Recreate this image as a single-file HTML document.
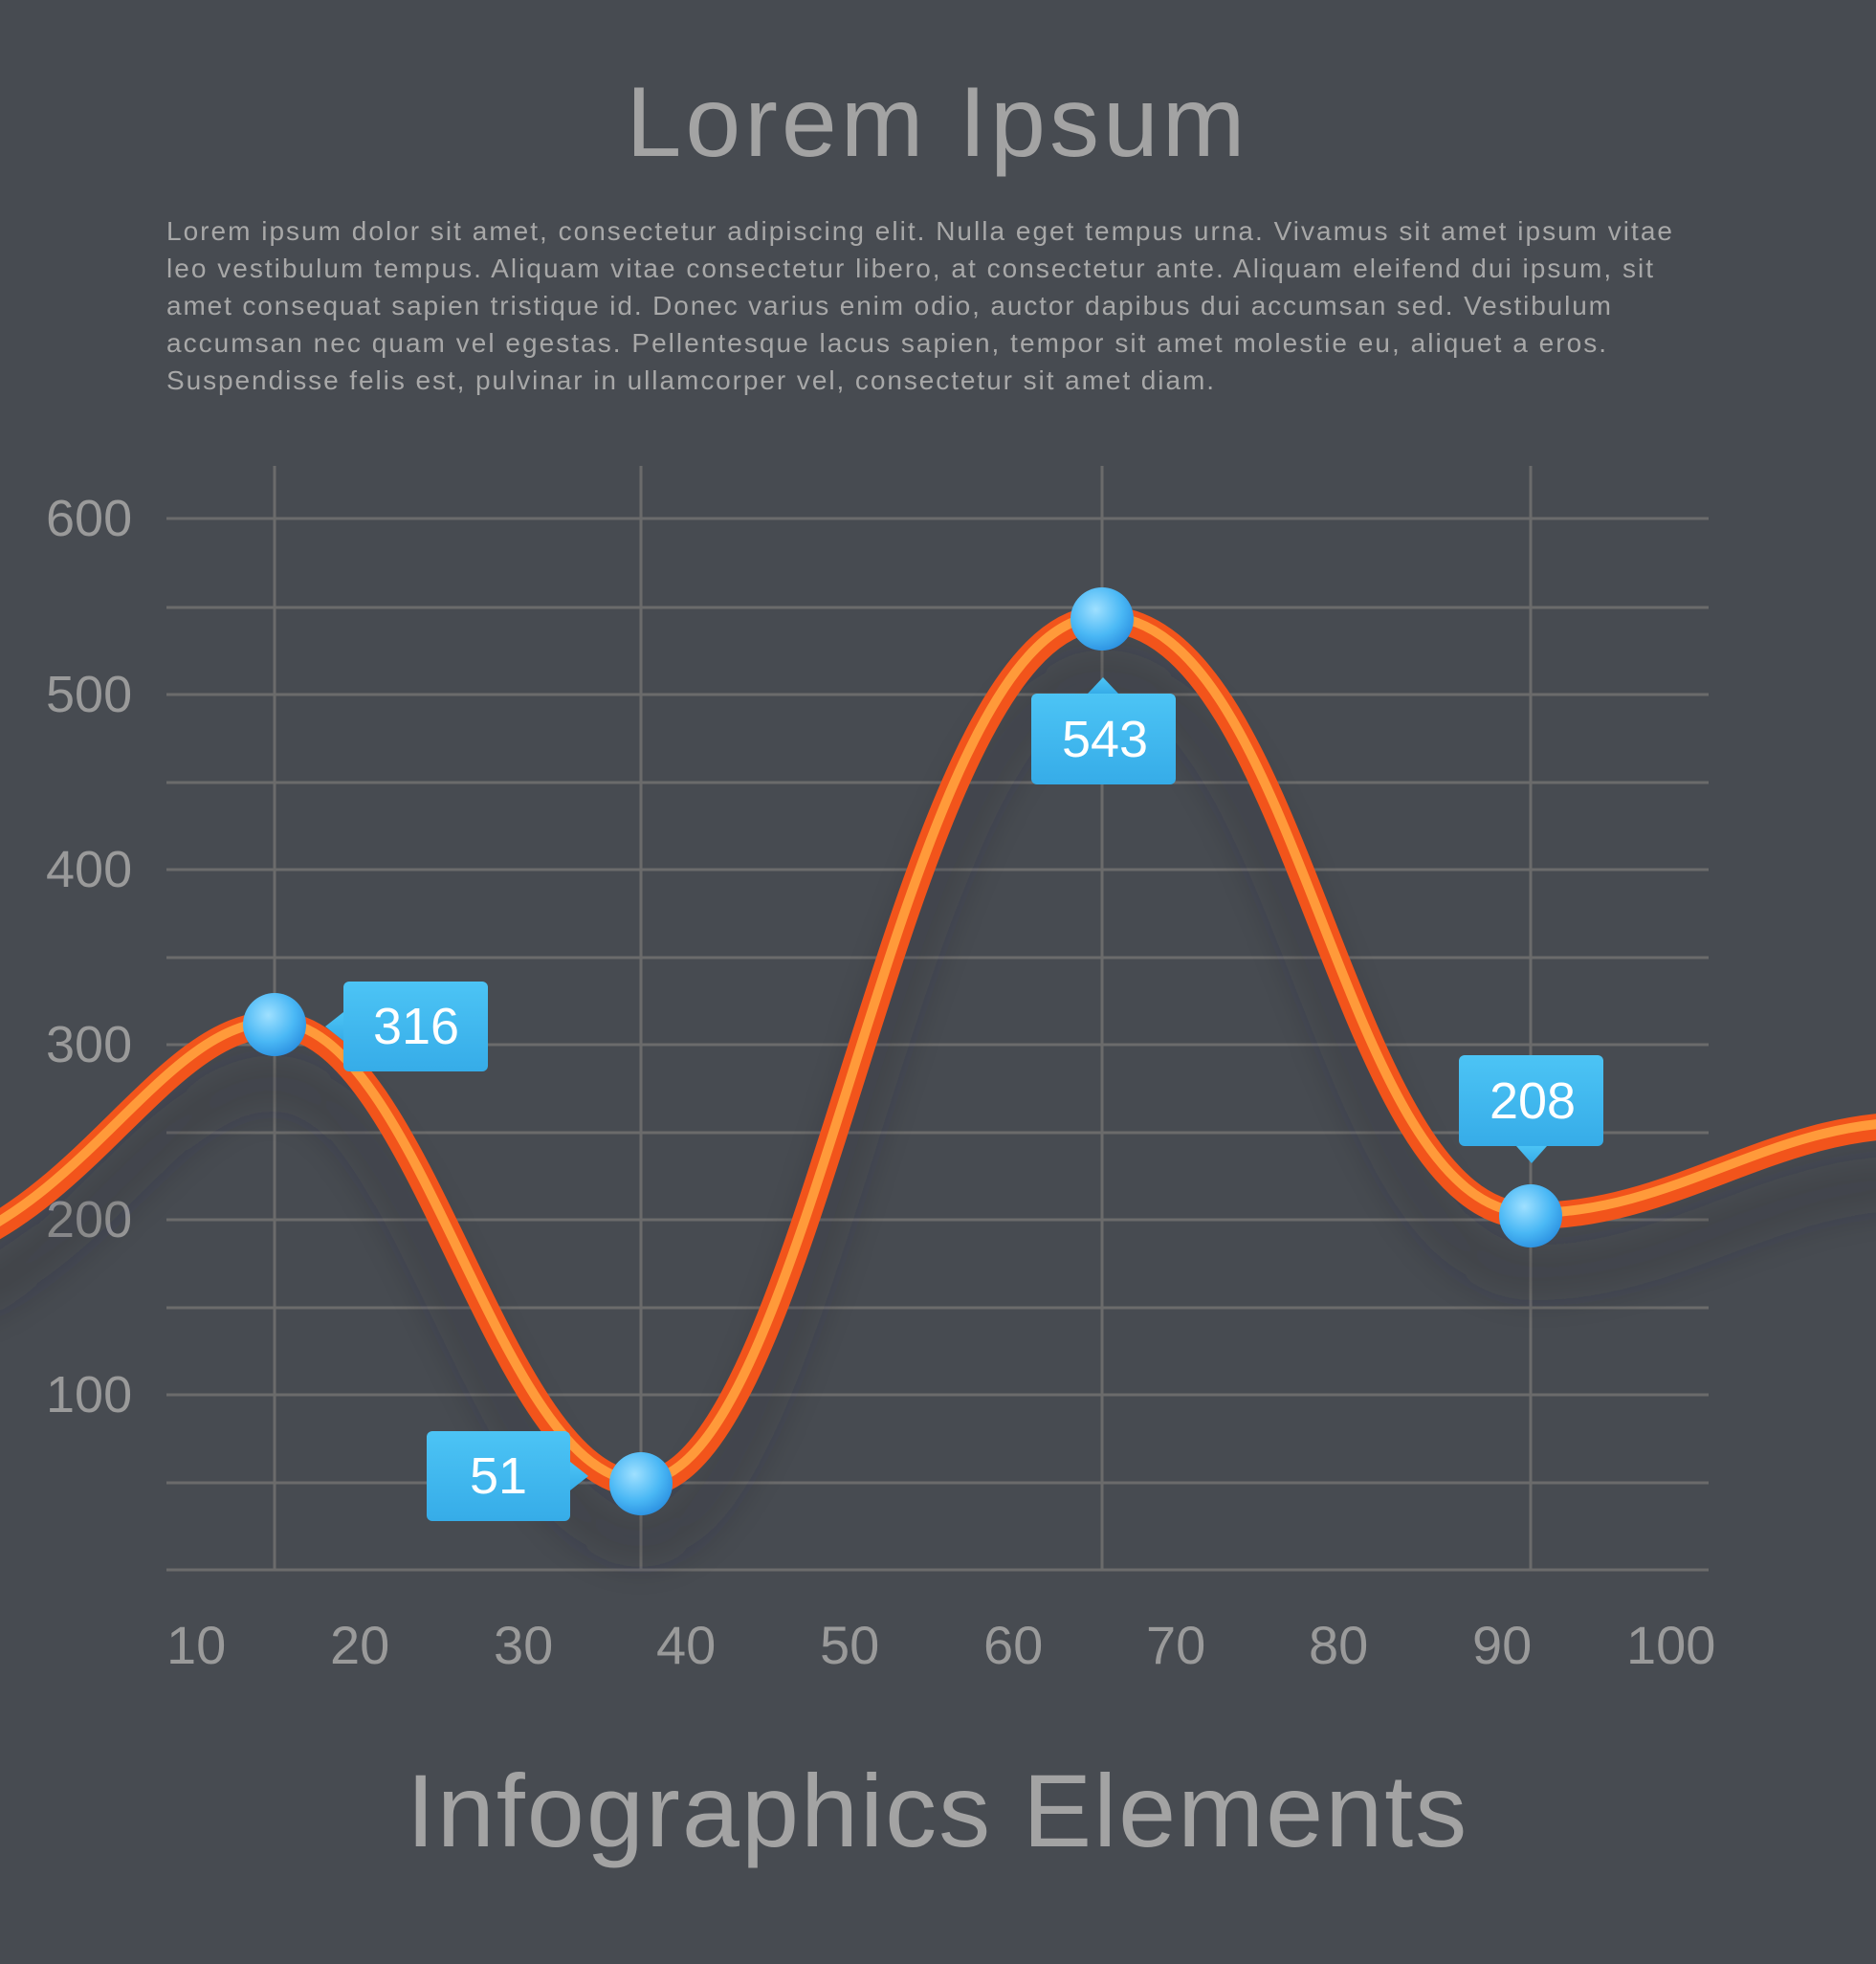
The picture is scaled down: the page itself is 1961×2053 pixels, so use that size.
<!DOCTYPE html>
<html><head><meta charset="utf-8"><style>
html,body{margin:0;padding:0;background:#474b51;}
body{width:1961px;height:2048px;overflow:hidden;}
</style></head><body>
<svg width="1961" height="2048" viewBox="0 0 1961 2048" xmlns="http://www.w3.org/2000/svg" font-family="Liberation Sans, sans-serif">
<defs>
<radialGradient id="ball" cx="0.4" cy="0.35" r="0.7">
<stop offset="0" stop-color="#9fe0ff"/><stop offset="0.6" stop-color="#4ab8f5"/><stop offset="1" stop-color="#2a8fe0"/>
</radialGradient>
<linearGradient id="box" x1="0" y1="0" x2="0" y2="1">
<stop offset="0" stop-color="#4cc4f5"/><stop offset="1" stop-color="#36ace8"/>
</linearGradient>
<filter id="sh" x="-20%" y="-20%" width="140%" height="140%"><feGaussianBlur stdDeviation="22"/></filter>
</defs>
<rect width="1961" height="2048" fill="#474b51"/>
<text x="980" y="163" text-anchor="middle" font-size="104" fill="#a3a3a3" letter-spacing="4">Lorem Ipsum</text>
<g font-size="28" fill="#a8a8a8" lengthAdjust="spacing">
<text x="174" y="251" textLength="1574">Lorem ipsum dolor sit amet, consectetur adipiscing elit. Nulla eget tempus urna. Vivamus sit amet ipsum vitae</text>
<text x="174" y="290" textLength="1554">leo vestibulum tempus. Aliquam vitae consectetur libero, at consectetur ante. Aliquam eleifend dui ipsum, sit</text>
<text x="174" y="329" textLength="1510">amet consequat sapien tristique id. Donec varius enim odio, auctor dapibus dui accumsan sed. Vestibulum</text>
<text x="174" y="368" textLength="1505">accumsan nec quam vel egestas. Pellentesque lacus sapien, tempor sit amet molestie eu, aliquet a eros.</text>
<text x="174" y="407" textLength="1095">Suspendisse felis est, pulvinar in ullamcorper vel, consectetur sit amet diam.</text>
</g>
<g stroke="#6b6b6b" stroke-width="3">
<line x1="174" x2="1786" y1="542" y2="542"/><line x1="174" x2="1786" y1="635" y2="635"/>
<line x1="174" x2="1786" y1="726" y2="726"/><line x1="174" x2="1786" y1="818" y2="818"/>
<line x1="174" x2="1786" y1="909" y2="909"/><line x1="174" x2="1786" y1="1001" y2="1001"/>
<line x1="174" x2="1786" y1="1092" y2="1092"/><line x1="174" x2="1786" y1="1184" y2="1184"/>
<line x1="174" x2="1786" y1="1275" y2="1275"/><line x1="174" x2="1786" y1="1367" y2="1367"/>
<line x1="174" x2="1786" y1="1458" y2="1458"/><line x1="174" x2="1786" y1="1550" y2="1550"/>
<line x1="174" x2="1786" y1="1641" y2="1641"/>
<line x1="287" x2="287" y1="487" y2="1641"/><line x1="670" x2="670" y1="487" y2="1641"/>
<line x1="1152" x2="1152" y1="487" y2="1641"/><line x1="1600" x2="1600" y1="487" y2="1641"/>
</g>
<g font-size="54" fill="#9a9a9a">
<text x="48" y="560">600</text><text x="48" y="744">500</text><text x="48" y="927">400</text>
<text x="48" y="1110">300</text><text x="48" y="1293">200</text><text x="48" y="1476">100</text>
</g>
<g font-size="56" fill="#9a9a9a">
<text x="174" y="1739">10</text><text x="345" y="1739">20</text><text x="516" y="1739">30</text>
<text x="686" y="1739">40</text><text x="857" y="1739">50</text><text x="1028" y="1739">60</text>
<text x="1198" y="1739">70</text><text x="1368" y="1739">80</text><text x="1539" y="1739">90</text>
<text x="1700" y="1739">100</text>
</g>
<path d="M-40,1300 C100,1240 180,1071 287,1071 C440,1071 520,1551 670,1551 C850,1551 940,647 1152,647 C1360,647 1400,1271 1600,1271 C1750,1271 1850,1176 2000,1176" fill="none" stroke="#2a2c30" stroke-opacity="0.35" stroke-width="30" filter="url(#sh)" transform="translate(0,60)"/>
<path d="M-40,1300 C100,1240 180,1071 287,1071 C440,1071 520,1551 670,1551 C850,1551 940,647 1152,647 C1360,647 1400,1271 1600,1271 C1750,1271 1850,1176 2000,1176" fill="none" stroke="#f2541b" stroke-width="28"/>
<path d="M-40,1300 C100,1240 180,1071 287,1071 C440,1071 520,1551 670,1551 C850,1551 940,647 1152,647 C1360,647 1400,1271 1600,1271 C1750,1271 1850,1176 2000,1176" fill="none" stroke="#ff9a3a" stroke-width="10" transform="translate(0,-3)"/>
<g fill="url(#ball)">
<circle cx="287" cy="1071" r="33"/><circle cx="670" cy="1551" r="33"/>
<circle cx="1152" cy="647" r="33"/><circle cx="1600" cy="1271" r="33"/>
</g>
<g fill="url(#box)">
<rect x="359" y="1026" width="151" height="94" rx="6"/><polygon points="359,1058 340,1073 359,1088"/>
<rect x="446" y="1496" width="150" height="94" rx="6"/><polygon points="596,1528 615,1543 596,1558"/>
<rect x="1078" y="725" width="151" height="95" rx="6"/><polygon points="1137,725 1153,708 1169,725"/>
<rect x="1525" y="1103" width="151" height="95" rx="6"/><polygon points="1585,1198 1601,1216 1617,1198"/>
</g>
<g font-size="54" fill="#ffffff" text-anchor="middle">
<text x="435" y="1091">316</text><text x="521" y="1561">51</text>
<text x="1155" y="791">543</text><text x="1602" y="1169">208</text>
</g>
<text x="980" y="1930" text-anchor="middle" font-size="108" fill="#a3a3a3" letter-spacing="2">Infographics Elements</text>
</svg>
</body></html>
